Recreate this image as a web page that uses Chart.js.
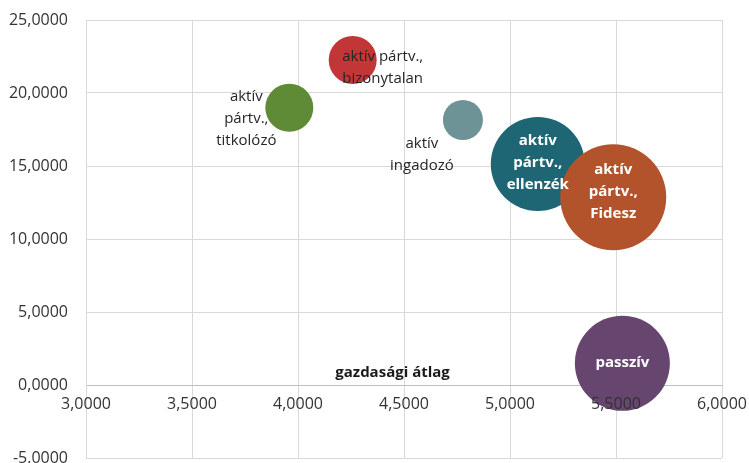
<!DOCTYPE html>
<html>
<head>
<meta charset="utf-8">
<script src="https://cdn.jsdelivr.net/npm/chart.js@4.4.1/dist/chart.umd.min.js"></script>
<style>
  html, body { margin: 0; padding: 0; background: #fff; }
  #wrap { width: 749px; height: 463px; }
</style>
</head>
<body>
<div id="wrap"><canvas id="myChart"></canvas></div>
<script>
// csoportok (szöveg soronként)
const groups = [
  ["aktív", "pártv.,", "titkolózó"],
  ["aktív pártv.,", "bizonytalan"],
  ["aktív", "ingadozó"],
  ["aktív", "pártv.,", "ellenzék"],
  ["aktív", "pártv.,", "Fidesz"],
  ["passzív"]
];
const gazdasagi = [3.959, 4.258, 4.778, 5.131, 5.487, 5.530];
const masikAtlag = [18.99, 22.26, 18.15, 15.14, 12.86, 1.49];
const bubbleSize = [24, 24, 20, 47, 53, 47.5];

const xTicks = [3, 3.5, 4, 4.5, 5, 5.5, 6];
const yTicks = [-5, 0, 5, 10, 15, 20, 25];
const xTitle = "gazdasági átlag";

const colors = ["#5f8a36", "#c23637", "#6e9397", "#1e6673", "#b2532c", "#66466f"];

// címkék elhelyezése a buborék középpontjához képest
const labelPlace = [
  { dx: -43, dy: 11, color: "#262626", bold: false },
  { dx: 30, dy: 8, color: "#262626", bold: false },
  { dx: -41, dy: 35, color: "#262626", bold: false },
  { dx: 0, dy: -1, color: "#ffffff", bold: true },
  { dx: 0, dy: -6, color: "#ffffff", bold: true },
  { dx: 0, dy: -1, color: "#ffffff", bold: true }
];

const fmt = (v) => v.toFixed(4).replace(".", ",");

const pointLabels = {
  id: "pointLabels",
  afterDatasetsDraw(chart) {
    const c = chart.ctx;
    const meta = chart.getDatasetMeta(0);
    c.save();
    c.textAlign = "center";
    c.textBaseline = "middle";
    meta.data.forEach((el, i) => {
      const p = labelPlace[i];
      const lines = groups[i];
      const lh = 22;
      c.font = (p.bold ? "bold " : "") + "15px 'Open Sans'";
      c.fillStyle = p.color;
      const y0 = el.y + p.dy - (lines.length - 1) * lh / 2;
      lines.forEach((t, k) => c.fillText(t, el.x + p.dx, y0 + k * lh));
    });
    // tengelycím a vízszintes tengely fölött
    const xs = chart.scales.x;
    c.font = "bold 15px 'Open Sans'";
    c.fillStyle = "#1a1a1a";
    c.fillText(xTitle, xs.getPixelForValue(4.446), chart.scales.y.getPixelForValue(0) - 12);
    c.restore();
  }
};

// a skálák saját belső margóit kikapcsoljuk, a helyet a layout.padding adja
const noPad = (s) => {
  s.paddingTop = 0; s.paddingBottom = 0; s.paddingLeft = 0; s.paddingRight = 0;
};

new Chart(document.getElementById("myChart"), {
  type: "bubble",
  data: {
    datasets: [{
      data: gazdasagi.map((x, i) => ({ x: x, y: masikAtlag[i], r: bubbleSize[i] })),
      backgroundColor: colors,
      borderWidth: 0,
      hoverRadius: 0,
      clip: false
    }]
  },
  options: {
    responsive: true,
    maintainAspectRatio: false,
    animation: false,
    layout: { autoPadding: false, padding: { top: 20, bottom: 5, right: 27, left: 0 } },
    plugins: { legend: { display: false }, tooltip: { enabled: false } },
    scales: {
      x: {
        type: "linear",
        position: { y: 0 },
        min: 3, max: 6,
        afterBuildTicks: (s) => { s.ticks = xTicks.map((v) => ({ value: v })); },
        afterFit: (s) => { s.height = 0; noPad(s); },
        ticks: {
          callback: (v) => fmt(v),
          font: { family: "'Open Sans'", size: 16 },
          color: "#333333",
          padding: 10,
          z: 1
        },
        grid: { color: "#d9d9d9", drawTicks: false },
        border: { color: "#bfbfbf" }
      },
      y: {
        type: "linear",
        min: -5, max: 25,
        afterBuildTicks: (s) => { s.ticks = yTicks.map((v) => ({ value: v })); },
        afterFit: (s) => { s.width = 86; noPad(s); },
        ticks: {
          callback: (v) => fmt(v),
          font: { family: "'Open Sans'", size: 16 },
          color: "#333333",
          padding: 18
        },
        grid: { color: "#d9d9d9", drawTicks: false },
        border: { color: "#d9d9d9" }
      }
    }
  },
  plugins: [pointLabels]
});
</script>
</body>
</html>
